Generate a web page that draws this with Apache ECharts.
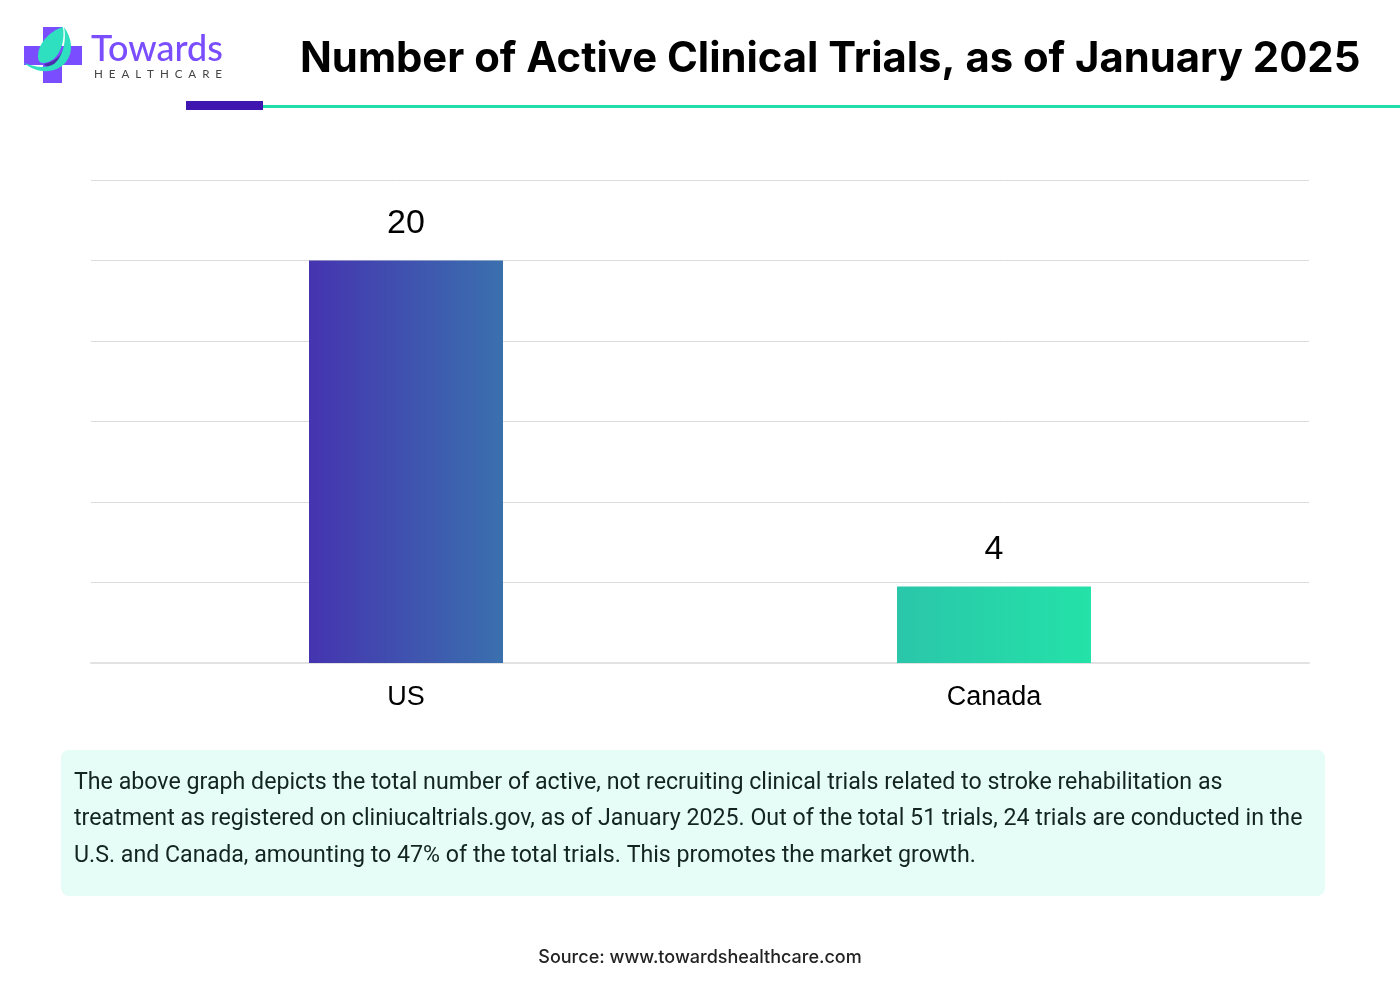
<!DOCTYPE html>
<html>
<head>
<meta charset="utf-8">
<title>Number of Active Clinical Trials</title>
<script src="https://cdn.jsdelivr.net/npm/echarts@6/dist/echarts.min.js"></script>
<style>
  html, body { margin: 0; padding: 0; background: #fff; }
  #chart { width: 1400px; height: 997px; }
</style>
</head>
<body>
<div id="chart"></div>
<script>
var categories = ['US', 'Canada'];
var trials = [20, 3.8];
var trialLabels = ['20', '4'];
var yMax = 24;
var yInterval = 4;
var titleText = 'Number of Active Clinical Trials, as of January 2025';
var noteLines = [
  'The above graph depicts the total number of active, not recruiting clinical trials related to stroke rehabilitation as',
  'treatment as registered on cliniucaltrials.gov, as of January 2025. Out of the total 51 trials, 24 trials are conducted in the',
  'U.S. and Canada, amounting to 47% of the total trials. This promotes the market growth.'
];
var sourceText = 'Source: www.towardshealthcare.com';

var barColors = [
  ['#4534b0', '#3a70ae'],
  ['#2ac6aa', '#24e2a8']
];

function hGrad(c) {
  return new echarts.graphic.LinearGradient(0, 0, 1, 0, [
    { offset: 0, color: c[0] },
    { offset: 1, color: c[1] }
  ]);
}

/* logo leaf shapes */
echarts.graphic.registerShape('logoGap', echarts.graphic.extendShape({
  buildPath: function (ctx) {
    ctx.moveTo(65, 45);
    ctx.bezierCurveTo(62, 55, 55, 62, 44, 64);
    ctx.lineTo(48, 68);
    ctx.bezierCurveTo(58, 66, 64, 58, 66, 48);
    ctx.closePath();
  }
}));
echarts.graphic.registerShape('logoLeaf', echarts.graphic.extendShape({
  buildPath: function (ctx) {
    ctx.moveTo(63, 27);
    ctx.bezierCurveTo(52, 30, 38, 42, 38, 56);
    ctx.bezierCurveTo(38, 60, 39, 63, 43, 63);
    ctx.bezierCurveTo(55, 63, 66, 48, 63, 27);
    ctx.closePath();
  }
}));
echarts.graphic.registerShape('logoCrescent', echarts.graphic.extendShape({
  buildPath: function (ctx) {
    ctx.moveTo(64, 27);
    ctx.bezierCurveTo(72, 38, 74, 52, 66, 62);
    ctx.bezierCurveTo(58, 72, 40, 76, 24, 63);
    ctx.bezierCurveTo(34, 67, 46, 69, 54, 64);
    ctx.bezierCurveTo(62, 58, 67, 42, 64, 27);
    ctx.closePath();
  }
}));

var graphics = [
  // header rule
  { type: 'rect', shape: { x: 263, y: 105, width: 1137, height: 3 }, style: { fill: '#22dcaa' } },
  { type: 'rect', shape: { x: 186, y: 101, width: 77, height: 9 }, style: { fill: '#3f17b0' } },
  // logo
  { type: 'rect', shape: { x: 43, y: 27, width: 19, height: 56 }, style: { fill: '#7a4dff' } },
  { type: 'rect', shape: { x: 24, y: 46, width: 58, height: 19 }, style: { fill: '#7a4dff' } },
  { type: 'logoGap', style: { fill: '#4a30a8' } },
  { type: 'logoCrescent', style: { fill: '#2fe0c0' } },
  { type: 'logoLeaf', style: { fill: '#2fe0c0' } },
  { type: 'text', style: { x: 91, y: 49, text: 'Towards', font: '500 36px "Lato"', fill: '#7a4dff', textVerticalAlign: 'middle' } },
  { type: 'text', style: { x: 94, y: 74, text: 'H  E  A  L  T  H  C  A  R  E', font: '400 11.6px "Lato"', fill: '#444', textVerticalAlign: 'middle' } },
  // title
  { type: 'text', style: { x: 300, y: 59, text: titleText, font: '700 41.8px "Inter"', fill: '#000', textVerticalAlign: 'middle' } },
  // note box
  { type: 'rect', z: -1, shape: { x: 61, y: 750, width: 1264, height: 146, r: 8 }, style: { fill: '#e6fdf7' } },
  { type: 'text', style: { x: 700, y: 958, text: sourceText, font: '500 18px "Inter"', fill: '#222', textAlign: 'center', textVerticalAlign: 'middle' } }
];

noteLines.forEach(function (line, i) {
  graphics.push({
    type: 'text',
    style: { x: 74, y: 783 + i * 36.5, text: line, font: '400 23.2px "Roboto"', fill: '#142420', textVerticalAlign: 'middle' }
  });
});

var chart = echarts.init(document.getElementById('chart'));
chart.setOption({
  animation: false,
  backgroundColor: '#fff',
  // first grid carries the gridlines, second one places the bars
  grid: [
    { left: 91, right: 91, top: 180, height: 483 },
    { left: 112, right: 112, top: 180, height: 483 }
  ],
  xAxis: [
    {
      type: 'category',
      gridIndex: 0,
      data: categories,
      axisLine: { lineStyle: { color: '#e2e2e2', width: 2 } },
      axisTick: { show: false },
      axisLabel: { show: false }
    },
    {
      type: 'category',
      gridIndex: 1,
      data: categories,
      axisLine: { show: false },
      axisTick: { show: false },
      axisLabel: { color: '#000', fontSize: 27, fontFamily: 'Liberation Sans', margin: 21 }
    }
  ],
  yAxis: [
    {
      type: 'value',
      gridIndex: 0,
      min: 0,
      max: yMax,
      interval: yInterval,
      axisLine: { show: false },
      axisTick: { show: false },
      axisLabel: { show: false },
      splitLine: { lineStyle: { color: '#dcdcdc', width: 1 } }
    },
    {
      type: 'value',
      gridIndex: 1,
      min: 0,
      max: yMax,
      interval: yInterval,
      axisLine: { show: false },
      axisTick: { show: false },
      axisLabel: { show: false },
      splitLine: { show: false }
    }
  ],
  series: [{
    type: 'bar',
    xAxisIndex: 1,
    yAxisIndex: 1,
    barWidth: 194,
    data: trials.map(function (v, i) {
      return { value: v, itemStyle: { color: hGrad(barColors[i]) } };
    }),
    label: {
      show: true,
      position: 'top',
      distance: 20,
      color: '#000',
      fontSize: 34,
      fontFamily: 'Liberation Sans',
      formatter: function (p) { return trialLabels[p.dataIndex]; }
    }
  }],
  graphic: { elements: graphics }
});
</script>
</body>
</html>
